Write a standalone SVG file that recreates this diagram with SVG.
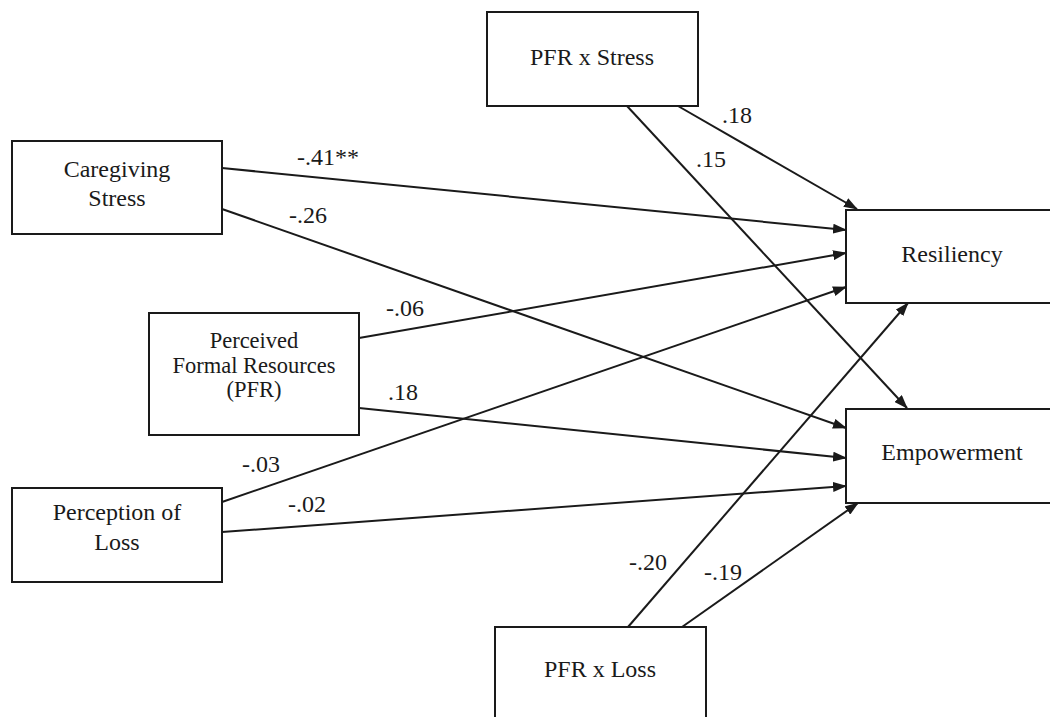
<svg xmlns="http://www.w3.org/2000/svg" width="1050" height="717" viewBox="0 0 1050 717">
  <style>
    .box { fill: #ffffff; stroke: #1a1a1a; stroke-width: 2; }
    .lbl { font-family: "Liberation Serif", "Times New Roman", serif; font-size: 24px; fill: #1a1a1a; text-anchor: middle; }
    .sm { font-size: 22.5px; }
    .coef { font-family: "Liberation Serif", "Times New Roman", serif; font-size: 24px; fill: #1a1a1a; }
    .edge { stroke: #1a1a1a; stroke-width: 2; fill: none; marker-end: url(#arrow); }
  </style>
  <defs>
    <marker id="arrow" markerUnits="userSpaceOnUse" markerWidth="14" markerHeight="10" refX="13" refY="5" orient="auto">
      <path d="M0,0 L14,5 L0,10 z" fill="#1a1a1a"/>
    </marker>
  </defs>
  <rect width="1050" height="717" fill="#ffffff"/>

  <g id="connectors">
    <line class="edge" x1="222" y1="168" x2="846" y2="230"/>
    <line class="edge" x1="222" y1="209" x2="846" y2="428"/>
    <line class="edge" x1="359" y1="338" x2="846" y2="253"/>
    <line class="edge" x1="359" y1="408" x2="846" y2="458"/>
    <line class="edge" x1="222" y1="502" x2="846" y2="287"/>
    <line class="edge" x1="222" y1="532" x2="846" y2="486"/>
    <line class="edge" x1="678" y1="106" x2="857" y2="209"/>
    <line class="edge" x1="627" y1="106" x2="907" y2="408"/>
    <line class="edge" x1="628" y1="627" x2="908" y2="303"/>
    <line class="edge" x1="682" y1="627" x2="858" y2="503"/>
  </g>

  <g id="coefficients">
    <text class="coef" x="297" y="165">-.41**</text>
    <text class="coef" x="289" y="223">-.26</text>
    <text class="coef" x="386" y="316">-.06</text>
    <text class="coef" x="388" y="400">.18</text>
    <text class="coef" x="242" y="472">-.03</text>
    <text class="coef" x="288" y="512">-.02</text>
    <text class="coef" x="722" y="123">.18</text>
    <text class="coef" x="696" y="167">.15</text>
    <text class="coef" x="629" y="570">-.20</text>
    <text class="coef" x="704" y="580">-.19</text>
  </g>

  <g id="caregiving-stress">
    <rect class="box" x="12" y="141" width="210" height="93"/>
    <text class="lbl" x="117" y="177">Caregiving</text>
    <text class="lbl" x="117" y="206">Stress</text>
  </g>

  <g id="pfr">
    <rect class="box" x="149" y="313" width="210" height="122"/>
    <text class="lbl sm" x="254" y="348">Perceived</text>
    <text class="lbl sm" x="254" y="373">Formal Resources</text>
    <text class="lbl sm" x="254" y="397">(PFR)</text>
  </g>

  <g id="perception-of-loss">
    <rect class="box" x="12" y="488" width="210" height="94"/>
    <text class="lbl" x="117" y="520">Perception of</text>
    <text class="lbl" x="117" y="550">Loss</text>
  </g>

  <g id="pfr-x-stress">
    <rect class="box" x="487" y="12" width="211" height="94"/>
    <text class="lbl" x="592" y="65">PFR x Stress</text>
  </g>

  <g id="pfr-x-loss">
    <rect class="box" x="495" y="627" width="211" height="100"/>
    <text class="lbl" x="600" y="677">PFR x Loss</text>
  </g>

  <g id="resiliency">
    <rect class="box" x="846" y="210" width="210" height="93"/>
    <text class="lbl" x="952" y="262">Resiliency</text>
  </g>

  <g id="empowerment">
    <rect class="box" x="846" y="409" width="210" height="94"/>
    <text class="lbl" x="952" y="460">Empowerment</text>
  </g>
</svg>
